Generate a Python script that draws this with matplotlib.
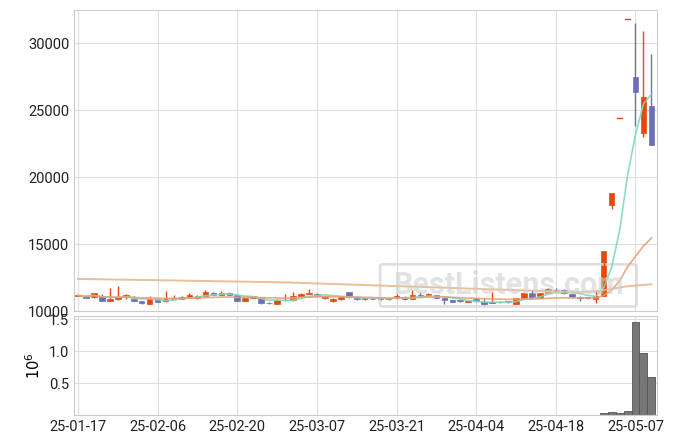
import numpy as np
import pandas as pd
import matplotlib
matplotlib.use("Agg")
import matplotlib.pyplot as plt
from matplotlib.patches import FancyBboxPatch

plt.rcParams['font.family'] = ['Roboto', 'DejaVu Sans']

# %% data
dates = pd.bdate_range("2025-01-17", periods=90)
holidays = pd.to_datetime(["2025-01-27", "2025-01-28", "2025-01-29", "2025-01-30",
                           "2025-03-03", "2025-05-01", "2025-05-05", "2025-05-06"])
dates = [d for d in dates if d not in holidays]

opens = [11150, 11150, 11050, 11150, 10780, 10870, 11080, 10900, 10750, 10550,
         10920, 10720, 10900, 10920, 11000, 10990, 11150, 11380, 11220, 11380,
         11220, 10780, 10950, 11000, 10620, 10560, 10800, 10800, 11150, 11250,
         11300, 10950, 10750, 10880, 11400, 11050, 10880, 10900, 11000, 10880,
         10950, 11050, 10900, 11180, 11120, 11180, 10960, 10820, 10800, 10670,
         10900, 10660, 10620, 10700, 10720, 10560, 10950, 11370, 11000, 11320,
         11600, 11600, 11250, 11050, 11000, 10900, 11150, 17900, 24400, 31800,
         27500, 23300, 25300]
closes = [11170, 11000, 11320, 10780, 10900, 11060, 11200, 10780, 10600, 10920,
          10700, 10920, 10950, 11050, 11170, 11140, 11400, 11220, 11380, 11220,
          10780, 10950, 11100, 10600, 10580, 10850, 10850, 11150, 11300, 11320,
          11150, 11100, 10900, 11050, 11050, 10880, 10950, 10930, 10880, 10960,
          11130, 10900, 11160, 11120, 11280, 10980, 10800, 10700, 10720, 10720,
          10720, 10500, 10660, 10680, 10650, 10950, 11370, 11000, 11320, 11650,
          11550, 11330, 11050, 10950, 10980, 11150, 14500, 18800, 24400, 31800,
          26400, 26000, 22400]
highs = [11230, 11200, 11350, 11300, 11700, 11840, 11250, 11100, 10700, 11150,
         10950, 11530, 11200, 11100, 11330, 11200, 11550, 11400, 11500, 11400,
         11250, 11000, 11150, 11050, 10700, 10900, 11250, 11450, 11350, 11650,
         11350, 11150, 10950, 11150, 11450, 11100, 11000, 10980, 11050, 11000,
         11300, 11100, 11600, 11400, 11350, 11200, 10850, 10800, 10800, 10780,
         10950, 11000, 11400, 10750, 10750, 10980, 11400, 11550, 11350, 11700,
         11700, 11650, 11300, 11150, 11050, 11600, 14500, 18800, 24400, 31800,
         31500, 30900, 29200]
lows = [11100, 10950, 11000, 10750, 10750, 10850, 10900, 10750, 10550, 10550,
        10650, 10700, 10880, 10900, 10980, 10900, 11100, 11200, 11200, 11200,
        10750, 10750, 10950, 10550, 10550, 10550, 10780, 10780, 11100, 11250,
        11100, 10900, 10700, 10850, 11000, 10850, 10850, 10880, 10850, 10850,
        10900, 10850, 10880, 11100, 11100, 10950, 10550, 10650, 10700, 10650,
        10700, 10480, 10600, 10600, 10600, 10550, 10950, 10980, 10980, 11300,
        11500, 11300, 10950, 10750, 10900, 10600, 11100, 17600, 24400, 31800,
        23800, 23000, 22400]
volumes = [0.004] * 66 + [0.03, 0.05, 0.03, 0.06, 1.45, 0.97, 0.60]  # x 10^6
ma60 = [12400, 12390, 12380, 12370, 12360, 12350, 12340, 12330, 12320, 12310,
        12300, 12290, 12280, 12270, 12260, 12250, 12240, 12230, 12220, 12210,
        12200, 12190, 12180, 12170, 12160, 12150, 12140, 12120, 12100, 12080,
        12060, 12040, 12020, 12000, 11980, 11960, 11940, 11920, 11900, 11880,
        11860, 11840, 11820, 11800, 11780, 11760, 11740, 11720, 11700, 11680,
        11660, 11640, 11620, 11600, 11580, 11560, 11540, 11520, 11500, 11480,
        11460, 11450, 11450, 11440, 11440, 11450, 11550, 11650, 11750, 11850,
        11900, 11950, 12000]

n = len(closes)
dates = dates[:n]
labels = [d.strftime("%y-%m-%d") for d in dates]
x = np.arange(n)
ma5 = pd.Series(closes).rolling(5, min_periods=1).mean()
ma20 = pd.Series(closes).rolling(20, min_periods=1).mean()

up_c, down_c = '#e8470c', '#6b70b4'

# %% figure
fig = plt.figure(figsize=(6.75, 4.44), dpi=100)
ax = fig.add_axes([74/675, 1-311/444, 583/675, 301/444])
axv = fig.add_axes([74/675, 1-415/444, 583/675, 99/444], sharex=ax)

for a in (ax, axv):
    a.grid(True, color='#dddddd', lw=0.8)
    a.set_axisbelow(True)
    for s in a.spines.values():
        s.set_color('#cccccc')
    a.tick_params(colors='#222222', labelsize=10.5, length=0)

for i in x:
    o, c, h, l = opens[i], closes[i], highs[i], lows[i]
    col = up_c if c >= o else down_c
    if h == l:
        ax.plot([i - 0.3, i + 0.3], [c, c], color=col, lw=1)
        continue
    ax.vlines(i, l, h, color=col, lw=1)
    ax.bar(i, max(abs(c - o), 30), bottom=min(o, c), width=0.7, color=col, edgecolor=col, lw=0.5)

ax.plot(x, ma5, color='#7fd8be', lw=1.2, alpha=0.9)
ax.plot(x, ma20, color='#e8a07a', lw=1.2, alpha=0.9)
ax.plot(x, ma60, color='#e6b88c', lw=1.4, alpha=0.9)

ax.set_ylim(10000, 32500)
ax.set_yticks([10000, 15000, 20000, 25000, 30000])
ax.tick_params(labelbottom=False)

# watermark
ax.add_patch(FancyBboxPatch((0.53, 0.02), 0.43, 0.13, boxstyle="round,pad=0.005",
                            transform=ax.transAxes, fill=False, ec='#d8d8d8', lw=2, alpha=0.8))
ax.text(0.745, 0.085, "BestListens.com", transform=ax.transAxes, ha='center', va='center',
        fontsize=22, fontweight='bold', color='#d0d0d0', alpha=0.6)

axv.bar(x, volumes, width=1.0, color='#777777', edgecolor='#555555', lw=0.6)
axv.set_ylim(0, 1.55)
axv.set_yticks([0.5, 1.0, 1.5])
axv.set_ylabel(r'$10^6$', fontsize=10.5)
axv.set_xlim(-0.5, n - 0.3)
ticks = list(range(0, n, 10))
axv.set_xticks(ticks)
axv.set_xticklabels([labels[t] for t in ticks])

fig.savefig("out.png", dpi=100)
